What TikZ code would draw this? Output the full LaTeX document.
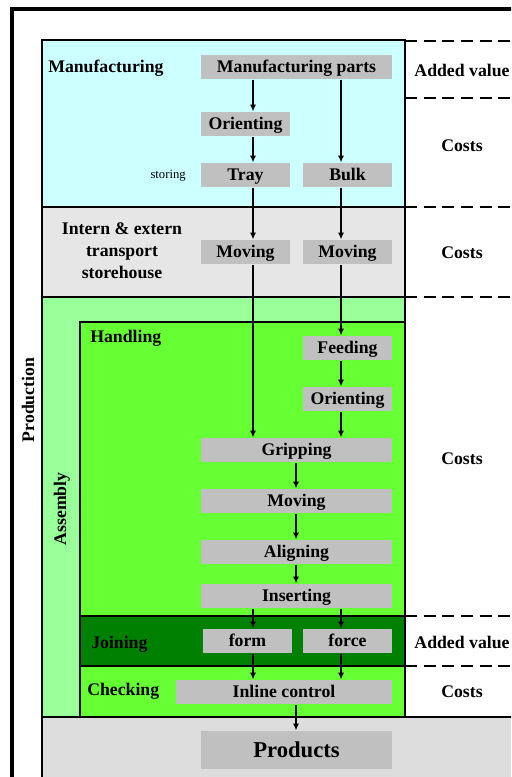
\documentclass[tikz,border=0pt]{standalone}
\usepackage{fontspec}
\setmainfont{Liberation Serif}
\usetikzlibrary{arrows.meta,positioning}
\definecolor{mfgcyan} {RGB}{204,255,255}
\definecolor{trngray} {RGB}{230,230,230}
\definecolor{asmgreen}{RGB}{153,255,153}
\definecolor{hdlgreen}{RGB}{102,255, 51}
\definecolor{jngreen} {RGB}{  0,128,  0}
\definecolor{prdgray} {RGB}{221,221,221}
\definecolor{boxgray} {RGB}{192,192,192}
\tikzset{
  area/.style={draw=black,line width=1.5pt},
  stepbox/.style={fill=boxgray,inner sep=0pt,minimum height=18.5pt,
                  text height=12pt,text depth=3.2pt,
                  font=\fontsize{13.3}{15}\selectfont\bfseries},
  narrow/.style={stepbox,minimum width=66.75pt},
  wide/.style={stepbox,minimum width=143.25pt},
  lbl/.style={font=\fontsize{13.3}{16.5}\selectfont\bfseries,inner sep=0pt},
  side/.style={lbl,anchor=west},
  arr/.style={-{Latex[length=5pt,width=4.5pt]},line width=1pt},
  sep/.style={line width=2.2pt,dash pattern=on 9pt off 5pt},
}
\begin{document}
\begin{tikzpicture}[x=0.75pt,y=-0.75pt]
  \clip (0,0) rectangle (511,777);
  \fill[white] (0,0) rectangle (511,777);
  \draw[line width=3pt] (11.5,800) -- (11.5,9.5) -- (530,9.5);
  \draw[area,fill=mfgcyan]  (42,40)  rectangle (405,207);
  \draw[area,fill=trngray]  (42,207) rectangle (405,297);
  \draw[area,fill=asmgreen] (42,297) rectangle (405,717);
  \draw[area,fill=hdlgreen] (80,322) rectangle (405,616);
  \draw[area,fill=jngreen]  (80,616) rectangle (405,666);
  \draw[area,fill=hdlgreen] (80,666) rectangle (405,717);
  \draw[area,fill=prdgray]  (42,717) rectangle (530,800);
  \foreach \y in {41,98,207,297,616,666}
    \draw[sep] (405,\y) -- (530,\y);

  \coordinate (colL) at (253,0);
  \coordinate (colC) at (296,0);
  \coordinate (colR) at (341,0);

  \node[lbl,rotate=90] (prod) at (28,400) {Production};
  \node[lbl,rotate=90] (asm)  at (62,509) {Assembly};
  \node[side] (mfg) at (48,68) {Manufacturing};
  \node[lbl,align=center] (trn) at (122,251) {Intern \& extern\\transport\\storehouse};
  \node[side] (hdl) at (90,338) {Handling};
  \node[side] (jn)  at (91,644) {Joining};
  \node[side] (chk) at (87,691) {Checking};
  \node[anchor=east,inner sep=0pt,font=\fontsize{9.5}{11}\selectfont] (sto) at (186,176) {storing};

  \node[lbl] (av1) at (462,70)  {Added value};
  \node[lbl] (co1) at (462,146) {Costs};
  \node[lbl] (co2) at (462,253) {Costs};
  \node[lbl] (co3) at (462,459) {Costs};
  \node[lbl] (av2) at (462,642) {Added value};
  \node[lbl] (co4) at (462,692) {Costs};

  \node[wide]   (MP)  at (296.5,67)  {Manufacturing parts};
  \node[narrow] (OR1) at (245.5,124) {Orienting};
  \node[narrow] (TR)  at (245.5,175) {Tray};
  \node[narrow] (BU)  at (347.5,175) {Bulk};
  \node[narrow] (MVL) at (245.5,252) {Moving};
  \node[narrow] (MVR) at (347.5,252) {Moving};
  \node[narrow] (FE)  at (347.5,348) {Feeding};
  \node[narrow] (OR2) at (347.5,399) {Orienting};
  \node[wide]   (GR)  at (296.5,450) {Gripping};
  \node[wide]   (MV)  at (296.5,501) {Moving};
  \node[wide]   (AL)  at (296.5,552) {Aligning};
  \node[wide]   (IN)  at (296.5,596) {Inserting};
  \node[narrow] (FO)  at (247.5,641) {form};
  \node[narrow] (FC)  at (347.5,641) {force};
  \node[stepbox,minimum width=162pt] (IC) at (284,692) {Inline control};
  \node[stepbox,minimum width=143.25pt,minimum height=29pt,
        text height=15pt,text depth=3.8pt,
        font=\fontsize{17}{20}\selectfont\bfseries] (PR) at (296.5,750) {Products};

  \draw[arr] (MP.south -| colL)  -- (OR1.north -| colL);
  \draw[arr] (OR1.south -| colL) -- (TR.north -| colL);
  \draw[arr] (TR.south -| colL)  -- (MVL.north -| colL);
  \draw[arr] (MVL.south -| colL) -- (GR.north -| colL);
  \draw[arr] (MP.south -| colR)  -- (BU.north -| colR);
  \draw[arr] (BU.south -| colR)  -- (MVR.north -| colR);
  \draw[arr] (MVR.south -| colR) -- (FE.north -| colR);
  \draw[arr] (FE.south -| colR)  -- (OR2.north -| colR);
  \draw[arr] (OR2.south -| colR) -- (GR.north -| colR);
  \draw[arr] (GR.south -| colC)  -- (MV.north -| colC);
  \draw[arr] (MV.south -| colC)  -- (AL.north -| colC);
  \draw[arr] (AL.south -| colC)  -- (IN.north -| colC);
  \draw[arr] (IN.south -| colL)  -- (FO.north -| colL);
  \draw[arr] (IN.south -| colR)  -- (FC.north -| colR);
  \draw[arr] (FO.south -| colL)  -- (IC.north -| colL);
  \draw[arr] (FC.south -| colR)  -- (IC.north -| colR);
  \draw[arr] (IC.south -| colC)  -- (PR.north -| colC);
\end{tikzpicture}
\end{document}
